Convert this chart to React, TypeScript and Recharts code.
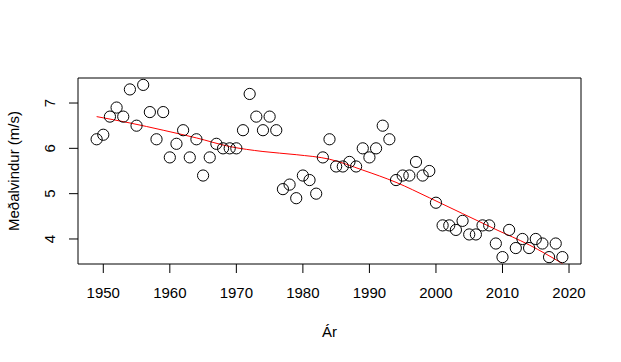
import React from "react"
import {
  ComposedChart,
  Scatter,
  Line,
  XAxis,
  YAxis,
  ReferenceArea,
} from "recharts"

// Annual mean wind speed (m/s), 1949-2019
const years = [
  1949, 1950, 1951, 1952, 1953, 1954, 1955, 1956, 1957, 1958, 1959, 1960, 1961, 1962, 1963,
  1964, 1965, 1966, 1967, 1968, 1969, 1970, 1971, 1972, 1973, 1974, 1975, 1976, 1977, 1978,
  1979, 1980, 1981, 1982, 1983, 1984, 1985, 1986, 1987, 1988, 1989, 1990, 1991, 1992, 1993,
  1994, 1995, 1996, 1997, 1998, 1999, 2000, 2001, 2002, 2003, 2004, 2005, 2006, 2007, 2008,
  2009, 2010, 2011, 2012, 2013, 2014, 2015, 2016, 2017, 2018, 2019,
]
const windSpeed = [
  6.2, 6.3, 6.7, 6.9, 6.7, 7.3, 6.5, 7.4, 6.8, 6.2, 6.8, 5.8, 6.1, 6.4, 5.8,
  6.2, 5.4, 5.8, 6.1, 6.0, 6.0, 6.0, 6.4, 7.2, 6.7, 6.4, 6.7, 6.4, 5.1, 5.2,
  4.9, 5.4, 5.3, 5.0, 5.8, 6.2, 5.6, 5.6, 5.7, 5.6, 6.0, 5.8, 6.0, 6.5, 6.2,
  5.3, 5.4, 5.4, 5.7, 5.4, 5.5, 4.8, 4.3, 4.3, 4.2, 4.4, 4.1, 4.1, 4.3, 4.3,
  3.9, 3.6, 4.2, 3.8, 4.0, 3.8, 4.0, 3.9, 3.6, 3.9, 3.6,
]

// smoothed trend (red line)
const trendYears = [1949, 1954, 1959, 1964, 1969, 1974, 1979, 1984, 1989, 1994, 1999, 2004, 2009, 2014, 2019]
const trendValues = [6.7, 6.56, 6.4, 6.23, 6.04, 5.93, 5.86, 5.76, 5.52, 5.25, 4.91, 4.56, 4.21, 3.87, 3.46]

const xTicks = [1950, 1960, 1970, 1980, 1990, 2000, 2010, 2020]
const yTicks = [4, 5, 6, 7]

const points = years.map((year, i) => ({ year, value: windSpeed[i] }))
const trend = trendYears.map((year, i) => ({ year, trend: trendValues[i] }))

const FONT = "'Liberation Sans', Arial, sans-serif"
const FS = 15
const X_DOMAIN: [number, number] = [1946.2, 2021.8]
const Y_DOMAIN: [number, number] = [3.448, 7.552]

const OpenCircle = (props: any) => (
  <circle cx={props.cx} cy={props.cy} r={5.6} fill="none" stroke="#000" strokeWidth={1} />
)

const YTick = (props: any) => {
  const { y, payload } = props
  return (
    <text
      x={55}
      y={y}
      transform={`rotate(-90, 55, ${y})`}
      textAnchor="middle"
      fontSize={FS}
      fontFamily={FONT}
      fill="#000"
    >
      {payload.value}
    </text>
  )
}

export default function App() {
  return (
    <div style={{ position: "absolute", left: 0, top: 0, width: 621, height: 362, background: "#fff" }}>
      <ComposedChart width={621} height={362} margin={{ top: 78, right: 40, left: 0, bottom: 0 }}>
        <XAxis
          dataKey="year"
          type="number"
          domain={X_DOMAIN}
          ticks={xTicks}
          allowDataOverflow
          height={98}
          axisLine={false}
          tickSize={9}
          tickMargin={14}
          tickLine={{ stroke: "#000" }}
          tick={{ fill: "#000", fontSize: FS, fontFamily: FONT }}
        />
        <YAxis
          type="number"
          domain={Y_DOMAIN}
          ticks={yTicks}
          allowDataOverflow
          width={78}
          axisLine={false}
          tickSize={9}
          tickLine={{ stroke: "#000" }}
          tick={<YTick />}
        />
        <ReferenceArea
          x1={X_DOMAIN[0]}
          x2={X_DOMAIN[1]}
          y1={Y_DOMAIN[0]}
          y2={Y_DOMAIN[1]}
          fill="none"
          stroke="#000"
          strokeWidth={1}
          ifOverflow="visible"
        />
        <Scatter data={points} dataKey="value" shape={OpenCircle} isAnimationActive={false} />
        <Line
          data={trend}
          dataKey="trend"
          type="monotone"
          stroke="#ff0000"
          strokeWidth={1}
          dot={false}
          activeDot={false}
          isAnimationActive={false}
        />
        <text x={329.5} y={337} textAnchor="middle" fontSize={FS} fontFamily={FONT} fill="#000">
          Ár
        </text>
        <text
          x={19}
          y={171}
          transform="rotate(-90, 19, 171)"
          textAnchor="middle"
          fontSize={FS}
          fontFamily={FONT}
          fill="#000"
        >
          Meðalvindur (m/s)
        </text>
      </ComposedChart>
    </div>
  )
}
